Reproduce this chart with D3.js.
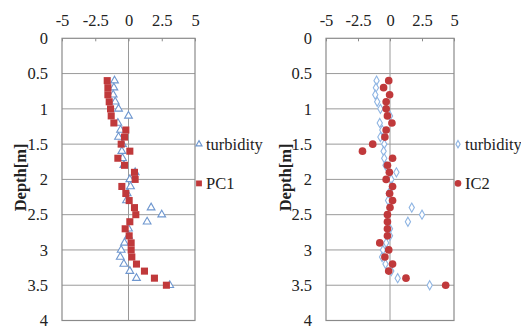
<!DOCTYPE html>
<html>
<head>
<meta charset="utf-8">
<script src="https://cdn.jsdelivr.net/npm/d3@7"></script>
<style>
  body { margin: 0; background: #fff; }
</style>
</head>
<body>
<script>
// depth of each sample [m]
var depths = [0.6, 0.7, 0.8, 0.9, 1.0, 1.1, 1.2, 1.3, 1.4, 1.5,
              1.6, 1.7, 1.8, 1.9, 2.0, 2.1, 2.2, 2.3, 2.4, 2.5,
              2.6, 2.7, 2.8, 2.9, 3.0, 3.1, 3.2, 3.3, 3.4, 3.5];
var turbidity = [-1.05, -1.1, -1.15, -1.0, -0.75, 0.0, -0.8, -0.6, -0.75, -0.45,
                 -0.5, -0.45, -0.35, 0.5, 0.1, 0.15, -0.1, -0.15, 1.7, 2.5,
                 1.4, 0.0, 0.0, -0.3, -0.55, -0.62, -0.35, 0.1, 0.6, 3.1];
var pc1 = [-1.6, -1.55, -1.55, -1.45, -1.35, -1.3, -1.1, -0.2, -0.3, -0.55,
           0.1, -0.8, -0.3, 0.45, 0.5, -0.5, -0.2, 0.05, 0.45, 0.55,
           0.1, -0.25, 0.05, 0.2, 0.2, 0.25, 0.6, 1.2, 1.95, 2.85];
var ic2 = [-0.1, -0.5, -0.03, -0.3, -0.3, -0.2, 0.15, -0.3, -0.4, -1.35,
           -2.15, 0.2, -0.2, -0.05, -0.3, 0.2, -0.03, 0.2, 0.0, -0.2,
           -0.2, -0.2, -0.2, -0.8, -0.1, -0.4, 0.2, -0.1, 1.25, 4.35];
var xTicks = [-5, -2.5, 0, 2.5, 5];
var yTicks = [0, 0.5, 1, 1.5, 2, 2.5, 3, 3.5, 4];

var width = 521, height = 329;
var font = "'Liberation Serif', 'Times New Roman', Times, serif";
var fontSize = "16.5px";
var svg = d3.select("body").append("svg")
    .attr("width", width)
    .attr("height", height);

var y = d3.scaleLinear().domain([0, 4]).range([38.3, 320.5]);

var panels = [
    {x0: 62, x1: 195, labelX: 20, tickX: 48, legX: 199, series: pc1, name: "PC1", shape: "square"},
    {x0: 326, x1: 454, labelX: 285, tickX: 312, legX: 458, series: ic2, name: "IC2", shape: "circle"}
];

panels.forEach(function(p){
    var x = d3.scaleLinear().domain([-5, 5]).range([p.x0, p.x1]);
    var g = svg.append("g");

    // horizontal grid
    g.selectAll("line.grid")
            .data(yTicks.slice(1, -1))
        .enter().append("line")
            .attr("x1", x(-5)).attr("x2", x(5))
            .attr("y1", function(d){ return y(d); })
            .attr("y2", function(d){ return y(d); })
            .style("stroke", "#9a9a9a")
            .style("stroke-width", 1);

    // zero line
    g.append("line")
        .attr("x1", x(0)).attr("x2", x(0))
        .attr("y1", y(0)).attr("y2", y(4))
        .style("stroke", "#9a9a9a")
        .style("stroke-width", 1);

    // frame
    g.append("rect")
        .attr("x", x(-5)).attr("y", y(0))
        .attr("width", x(5) - x(-5)).attr("height", y(4) - y(0))
        .style("fill", "none")
        .style("stroke", "#8a8a8a")
        .style("stroke-width", 1.2);

    // top axis
    var xAxis = d3.axisTop(x).tickValues(xTicks).tickSize(-3)
        .tickFormat(function(d){ return d; });
    var ax = g.append("g")
        .attr("transform", "translate(0," + y(0) + ")")
        .call(xAxis);
    ax.attr("font-family", null);
    ax.select(".domain").remove();
    ax.selectAll(".tick line").style("stroke", "#8a8a8a");
    ax.selectAll(".tick text")
        .attr("dy", 0)
        .attr("y", -12)
        .style("fill", "#222")
        .style("font-family", font)
        .style("font-size", fontSize);

    // left axis labels
    g.selectAll("text.ytick")
            .data(yTicks)
        .enter().append("text")
            .attr("x", p.tickX)
            .attr("y", function(d){ return y(d); })
            .attr("dy", "0.35em")
            .attr("text-anchor", "end")
            .style("font-family", font)
            .style("font-size", fontSize)
            .style("fill", "#222")
            .text(function(d){ return d; });

    g.append("text")
        .attr("transform", "translate(" + p.labelX + "," + (y(2) - 2) + ") rotate(-90)")
        .attr("text-anchor", "middle")
        .attr("dy", "0.35em")
        .style("font-family", font)
        .style("font-size", fontSize)
        .style("font-weight", "bold")
        .style("fill", "#222")
        .text("Depth[m]");

    // turbidity markers
    var turbSym = p.shape === "square" ? d3.symbolTriangle : d3.symbolDiamond;
    var turbColor = p.shape === "square" ? "#6f97cf" : "#8fb5e3";
    var turbSize = p.shape === "square" ? 26 : 24;
    g.selectAll("path.turb")
            .data(depths)
        .enter().append("path")
            .attr("d", d3.symbol().type(turbSym).size(turbSize))
            .attr("transform", function(d, i){
                return "translate(" + x(turbidity[i]) + "," + y(d) + ")";
            })
            .style("fill", "#fff")
            .style("stroke", turbColor)
            .style("stroke-width", 1.1);

    // component markers
    var compSym = p.shape === "square" ? d3.symbolSquare : d3.symbolCircle;
    var compSize = p.shape === "square" ? 50 : 46;
    g.selectAll("path.comp")
            .data(depths)
        .enter().append("path")
            .attr("d", d3.symbol().type(compSym).size(compSize))
            .attr("transform", function(d, i){
                return "translate(" + x(p.series[i]) + "," + y(d) + ")";
            })
            .style("fill", "#c0393b");

    // legend
    var leg = g.append("g");
    leg.append("path")
        .attr("d", d3.symbol().type(turbSym).size(16))
        .attr("transform", "translate(" + p.legX + "," + y(1.5) + ")")
        .style("fill", "#fff")
        .style("stroke", turbColor)
        .style("stroke-width", 1.1);
    leg.append("text")
        .attr("x", p.legX + 7).attr("y", y(1.5))
        .attr("dy", "0.35em")
        .style("font-family", font)
        .style("font-size", fontSize)
        .style("fill", "#222")
        .text("turbidity");
    leg.append("path")
        .attr("d", d3.symbol().type(compSym).size(34))
        .attr("transform", "translate(" + p.legX + "," + (y(2) + 4) + ")")
        .style("fill", "#c0393b");
    leg.append("text")
        .attr("x", p.legX + 7).attr("y", y(2) + 4)
        .attr("dy", "0.35em")
        .style("font-family", font)
        .style("font-size", fontSize)
        .style("fill", "#222")
        .text(p.name);
});
</script>
</body>
</html>
